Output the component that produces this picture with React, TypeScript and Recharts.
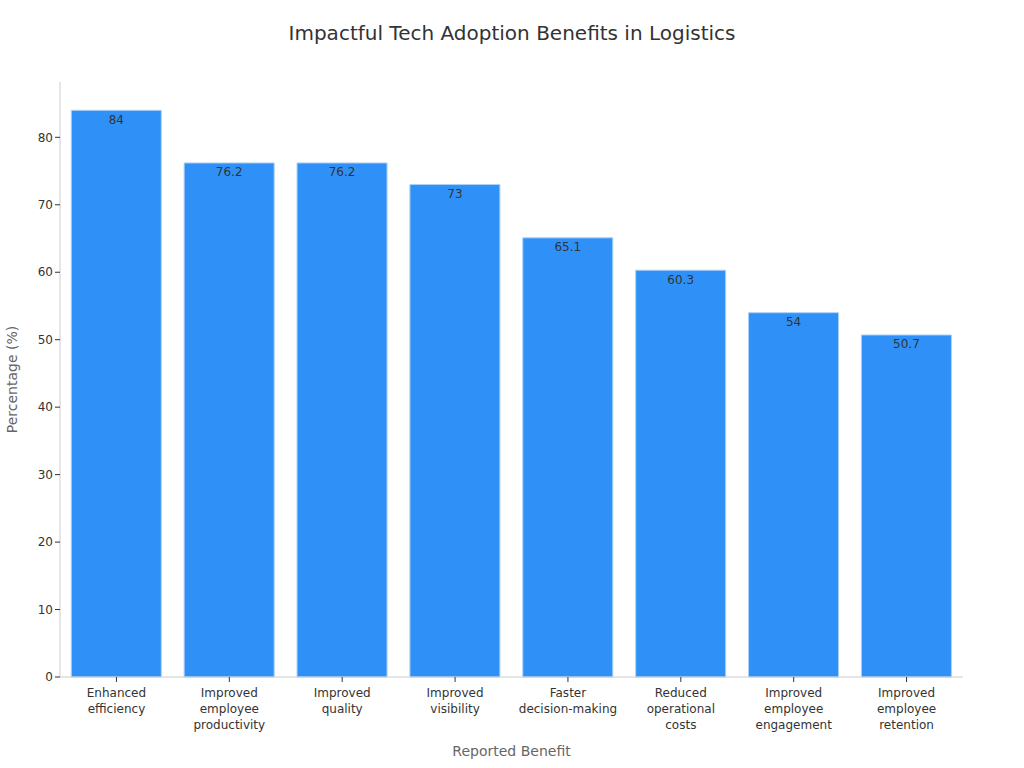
import { BarChart, Bar, XAxis, YAxis, LabelList } from 'recharts';

const categories = [
    "Enhanced\nefficiency",
    "Improved\nemployee\nproductivity",
    "Improved\nquality",
    "Improved\nvisibility",
    "Faster\ndecision-making",
    "Reduced\noperational\ncosts",
    "Improved\nemployee\nengagement",
    "Improved\nemployee\nretention",
];
const values = [84, 76.2, 76.2, 73, 65.1, 60.3, 54, 50.7];
const yTicks = [0, 10, 20, 30, 40, 50, 60, 70, 80];

const data = categories.map((name, i) => ({ name, value: values[i] }));

const FONT = "'DejaVu Sans', sans-serif";

// eslint-disable-next-line @typescript-eslint/no-explicit-any
function CategoryTick(props: any) {
    const { x, y, payload } = props;
    const lines = String(payload.value).split("\n");
    return (
        <text x={x} y={y + 4} textAnchor="middle" fill="#333" fontSize={12} fontFamily={FONT}>
            {lines.map((line, i) => (
                <tspan key={i} x={x} dy={i === 0 ? "0.71em" : 16}>{line}</tspan>
            ))}
        </text>
    );
}

export default function App() {
    return (
        <div style={{ position: "absolute", left: 0, top: 0, width: 1024, height: 768, background: "#fff", fontFamily: FONT }}>
            <div style={{ position: "absolute", top: 21, width: 1024, textAlign: "center", fontSize: 20, color: "#333" }}>
                Impactful Tech Adoption Benefits in Logistics
            </div>
            <BarChart
                width={1024}
                height={768}
                data={data}
                margin={{ top: 82, right: 61, bottom: 0, left: 0 }}
                barCategoryGap="10%"
            >
                <XAxis
                    dataKey="name"
                    interval={0}
                    tick={<CategoryTick />}
                    tickLine={{ stroke: "#333" }}
                    tickSize={5}
                    axisLine={{ stroke: "#ccc" }}
                    height={91}
                    label={{ value: "Reported Benefit", position: "insideBottom", offset: 12, fill: "#666", fontSize: 14, fontFamily: FONT }}
                />
                <YAxis
                    width={60}
                    domain={[0, 88.2]}
                    ticks={yTicks}
                    tick={{ fill: "#333", fontSize: 12, fontFamily: FONT }}
                    tickLine={{ stroke: "#333" }}
                    tickSize={5}
                    axisLine={{ stroke: "#ccc" }}
                    label={{ value: "Percentage (%)", angle: -90, position: "insideLeft", offset: 12, fill: "#666", fontSize: 14, fontFamily: FONT, style: { textAnchor: "middle" } }}
                />
                <Bar dataKey="value" fill="#2f91f7" stroke="#a9d1f7" strokeWidth={1} isAnimationActive={false}>
                    <LabelList dataKey="value" position="insideTop" offset={5} fill="#333" fontSize={12} fontFamily={FONT} />
                </Bar>
            </BarChart>
        </div>
    );
}
